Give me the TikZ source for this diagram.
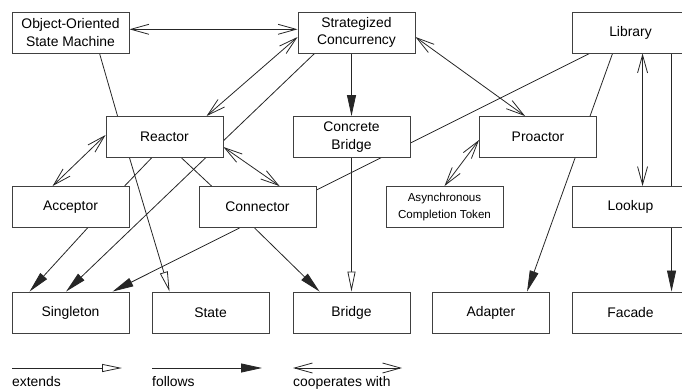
\documentclass[tikz,border=0pt]{standalone}
\usepackage{fontspec}
\setmainfont{Liberation Sans}
\usetikzlibrary{arrows.meta,backgrounds}

\tikzset{
    pattern box/.style={draw=black!75, line width=0.9pt, fill=white,
        minimum width=117pt, minimum height=41pt, inner sep=0pt,
        align=center, font=\fontsize{13.9}{17.5}\selectfont},
    small box/.style={pattern box, font=\fontsize{11.6}{16.5}\selectfont},
    legend text/.style={anchor=base west, inner sep=0pt,
        font=\fontsize{13.9}{17.5}\selectfont},
    link/.style={draw=black!85, line width=0.8pt},
    extends/.style={link, -{Triangle[open, fill=white, length=20pt, width=8pt]}},
    follows/.style={link, -{Triangle[length=21pt, width=9pt]}},
    coop/.style={link, {Straight Barb[length=18pt, width=10pt]}-{Straight Barb[length=18pt, width=10pt]}}
}

\begin{document}
\begin{tikzpicture}[x=1pt, y=-1pt]
    \useasboundingbox (0,0) rectangle (682,388);
    \clip (0,0) rectangle (682,388);

    % Patterns
    \node[pattern box] (oosm) at (70.5,32.5) {Object-Oriented\\State Machine};
    \node[pattern box] (strat) at (356.5,32.5) {Strategized\\Concurrency};
    \node[pattern box] (library) at (630.5,32.5) {Library};

    \node[pattern box] (reactor) at (164.5,137) {Reactor};
    \node[pattern box] (cbridge) at (351.5,137) {Concrete\\Bridge};
    \node[pattern box] (proactor) at (538,137) {Proactor};

    \node[pattern box] (acceptor) at (70.5,207) {Acceptor};
    \node[pattern box] (connector) at (257.5,207) {Connector};
    \node[small box] (act) at (444.5,207) {Asynchronous\\Completion Token};
    \node[pattern box] (lookup) at (630.5,207) {Lookup};

    \node[pattern box] (singleton) at (70.5,312.5) {Singleton};
    \node[pattern box] (state) at (210.5,312.5) {State};
    \node[pattern box] (bridge) at (351.5,312.5) {Bridge};
    \node[pattern box] (adapter) at (491,312.5) {Adapter};
    \node[pattern box] (facade) at (630.5,312.5) {Facade};

    \begin{scope}[on background layer]
        % cooperates with
        \draw[coop] ([yshift=3.2pt]oosm.east) -- ([yshift=3.2pt]strat.west);
        \draw[coop] ([yshift=-4.5pt]strat.west) -- ([xshift=101pt]reactor.north west);
        \draw[coop] ([yshift=-4.5pt]strat.east) -- ([xshift=46pt]proactor.north west);
        \draw[coop] ([yshift=2pt]reactor.west) -- ([xshift=41pt]acceptor.north west);
        \draw[coop] ([yshift=-10pt]reactor.east) -- ([xshift=81pt]connector.north west);
        \draw[coop] ([yshift=-3pt]proactor.west) -- (act.north);
        \draw[coop] ([xshift=71pt]library.south west) -- ([xshift=71pt]lookup.north west);

        % follows
        \draw[follows] (cbridge.north |- strat.south) -- (cbridge.north);
        \draw[follows] ([xshift=17pt]strat.south west) -- ([xshift=54.5pt]singleton.north west);
        \draw[follows] ([xshift=76pt]acceptor.south west) -- ([xshift=18pt]singleton.north west);
        \draw[follows] ([xshift=41pt]connector.south west) -- ([xshift=101pt]singleton.north west);
        \draw[follows] ([xshift=56pt]connector.south west) -- ([xshift=27pt]bridge.north west);
        \draw[follows] ([xshift=96pt]proactor.south west) -- ([xshift=95pt]adapter.north west);
        \draw[follows] ([xshift=100pt]library.south west) -- ([xshift=100pt]facade.north west);

        % extends
        \draw[extends] ([xshift=24pt]reactor.south west) -- ([xshift=18pt]state.north west);
        \draw[extends] (cbridge.south) -- (bridge.north);

        % uses
        \draw[link] ([xshift=88pt]oosm.south west) -- ([xshift=12pt]reactor.north west);
        \draw[link] ([xshift=46pt]reactor.south west) -- ([xshift=113pt]acceptor.north west);
        \draw[link] ([xshift=76pt]reactor.south west) -- ([xshift=13pt]connector.north west);
        \draw[link] ([xshift=18pt]library.south west) -- ([yshift=17pt]connector.east);
        \draw[link] ([xshift=41pt]library.south west) -- ([xshift=111pt]proactor.north west);
    \end{scope}

    % Legend
    \coordinate (ext a) at (12,368);
    \coordinate (ext b) at (122,368);
    \coordinate (fol a) at (152,368);
    \coordinate (fol b) at (262,368);
    \coordinate (coop a) at (293,368);
    \coordinate (coop b) at (402,368);
    \draw[extends] (ext a) -- (ext b);
    \draw[follows] (fol a) -- (fol b);
    \draw[coop] (coop a) -- (coop b);
    \node[legend text] (ext label) at (12,386.5) {extends};
    \node[legend text] (fol label) at (152,386.5) {follows};
    \node[legend text] (coop label) at (293,386.5) {cooperates with};
\end{tikzpicture}
\end{document}
